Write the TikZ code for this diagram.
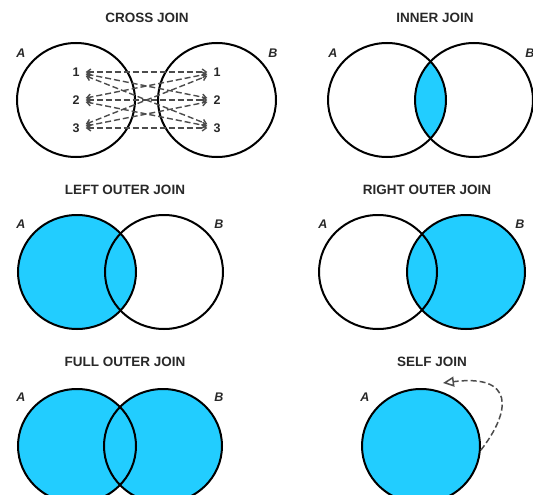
\documentclass[tikz,border=0pt]{standalone}
\usepackage{fontspec}
\setmainfont{Liberation Sans}
\usetikzlibrary{calc, shapes.geometric, arrows.meta}
\definecolor{joinfill}{RGB}{34,205,255}
\definecolor{joinink}{RGB}{40,40,40}

\begin{document}
\begin{tikzpicture}[x=1pt, y=1pt]
    \tikzstyle{set} = [ellipse, draw=black, line width=2pt, minimum
        width=118pt, minimum height=114pt, inner sep=0pt]
    \tikzstyle{title} = [text=joinink, font=\bfseries\fontsize{13.5}{15}\selectfont]
    \tikzstyle{setname} = [text=joinink, font=\bfseries\itshape\fontsize{12.5}{14}\selectfont]
    \tikzstyle{row} = [text=joinink, font=\bfseries\fontsize{12.5}{14}\selectfont, inner
        xsep=6pt, inner ysep=1pt]
    \tikzstyle{pair} = [dash pattern=on 6pt off 3pt, gray!60!black, line width=1.4pt, <->,
        >={Straight Barb[length=4pt, width=6pt]}]
    \tikzstyle{area} = [fill=joinfill]

    \useasboundingbox (0, 0) rectangle (533, -495);
    \clip (0, 0) rectangle (533, -495);

    % Cross join ----------------------------------------
    \node (cross) at (147, -18) [title] {CROSS JOIN};
    \node (crossA) at (76, -100) [set] {};
    \node (crossB) at ($(crossA) + (141, 0)$) [set] {};
    \node (crossAname) at (21, -53) [setname] {A};
    \node (crossBname) at (273, -53) [setname] {B};

    \node (L1) at (76, -72) [row] {1};
    \node (L2) at ($(L1) + (0, -28)$) [row] {2};
    \node (L3) at ($(L2) + (0, -28)$) [row] {3};
    \node (R1) at ($(L1) + (141, 0)$) [row] {1};
    \node (R2) at ($(R1) + (0, -28)$) [row] {2};
    \node (R3) at ($(R2) + (0, -28)$) [row] {3};

    \draw [pair] (L1) -- (R1);
    \draw [pair] (L1) -- (R2);
    \draw [pair] (L1) -- (R3);
    \draw [pair] (L2) -- (R1);
    \draw [pair] (L2) -- (R2);
    \draw [pair] (L2) -- (R3);
    \draw [pair] (L3) -- (R1);
    \draw [pair] (L3) -- (R2);
    \draw [pair] (L3) -- (R3);
    % ---------------------------------------------------

    % Inner join
    \node (inner) at (435, -18) [title] {INNER JOIN};
    \coordinate (innerAc) at (387, -100);
    \coordinate (innerBc) at ($(innerAc) + (87, 0)$);
    \begin{scope}
        \clip (innerAc) ellipse [x radius=59, y radius=57];
        \fill [area] (innerBc) ellipse [x radius=59, y radius=57];
    \end{scope}
    \node (innerA) at (innerAc) [set] {};
    \node (innerB) at (innerBc) [set] {};
    \node (innerAname) at (333, -53) [setname] {A};
    \node (innerBname) at (530, -53) [setname] {B};
    % ---------------------------------------------------

    % Left outer join
    \node (left) at (125, -190) [title] {LEFT OUTER JOIN};
    \node (leftA) at (77, -272) [set, area] {};
    \node (leftB) at ($(leftA) + (87, 0)$) [set] {};
    \node (leftAname) at (21, -224) [setname] {A};
    \node (leftBname) at (219, -224) [setname] {B};

    % Right outer join
    \node (right) at (427, -190) [title] {RIGHT OUTER JOIN};
    \node (rightB) at (466, -272) [set, area] {};
    \node (rightA) at ($(rightB) + (-88, 0)$) [set] {};
    \node (rightAname) at (323, -224) [setname] {A};
    \node (rightBname) at (520, -224) [setname] {B};
    % ---------------------------------------------------

    % Full outer join
    \node (full) at (125, -362) [title] {FULL OUTER JOIN};
    \coordinate (fullAc) at (77, -446);
    \coordinate (fullBc) at ($(fullAc) + (86, 0)$);
    \fill [area] (fullAc) ellipse [x radius=59, y radius=57];
    \fill [area] (fullBc) ellipse [x radius=59, y radius=57];
    \node (fullA) at (fullAc) [set] {};
    \node (fullB) at (fullBc) [set] {};
    \node (fullAname) at (21, -397) [setname] {A};
    \node (fullBname) at (219, -397) [setname] {B};

    % Self join
    \node (self) at (432, -362) [title] {SELF JOIN};
    \node (selfA) at (421, -446) [set, area] {};
    \node (selfAname) at (365, -397) [setname] {A};
    \coordinate (selfTip) at (443, -383);
    \draw [dash pattern=on 6pt off 3pt, gray!60!black, line width=1.5pt,
        -{Triangle[open, length=11pt, width=10pt, fill=white]}]
        (selfA.-4) .. controls (512, -410) and (514, -374) .. (selfTip);
    % ---------------------------------------------------
\end{tikzpicture}
\end{document}
